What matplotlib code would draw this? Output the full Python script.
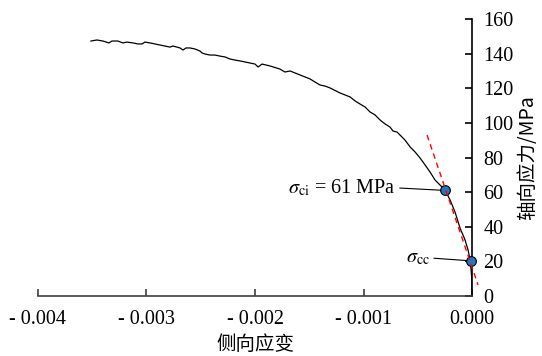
import numpy as np
import matplotlib
matplotlib.use('Agg')
from matplotlib import pyplot as plt

# lateral strain (x) and axial stress in MPa (y)
strain = np.array([-3.512e-3, -3.456e-3, -3.401e-3, -3.346e-3, -3.318e-3, -3.263e-3,
                   -3.217e-3, -3.180e-3, -3.124e-3, -3.078e-3, -3.041e-3, -3.014e-3,
                   -2.968e-3, -2.922e-3, -2.876e-3, -2.829e-3, -2.783e-3, -2.756e-3,
                   -2.719e-3, -2.691e-3, -2.664e-3, -2.636e-3, -2.599e-3, -2.553e-3,
                   -2.507e-3, -2.488e-3, -2.461e-3, -2.415e-3, -2.369e-3, -2.323e-3,
                   -2.276e-3, -2.230e-3, -2.184e-3, -2.138e-3, -2.092e-3, -2.046e-3,
                   -2.000e-3, -1.972e-3, -1.935e-3, -1.862e-3, -1.770e-3, -1.724e-3,
                   -1.677e-3, -1.585e-3, -1.493e-3, -1.447e-3, -1.401e-3, -1.355e-3,
                   -1.309e-3, -1.217e-3, -1.124e-3, -1.078e-3, -1.032e-3, -0.986e-3,
                   -0.940e-3, -0.894e-3, -0.848e-3, -0.802e-3, -0.756e-3, -0.728e-3,
                   -0.691e-3, -0.664e-3, -0.618e-3, -0.571e-3, -0.525e-3, -0.479e-3,
                   -0.433e-3, -0.387e-3, -0.341e-3, -0.295e-3, -0.249e-3, -0.203e-3,
                   -0.157e-3, -0.111e-3, -0.065e-3, -0.037e-3, -0.018e-3, -0.009e-3,
                   -0.002e-3, 0.0])
stress = np.array([147.3, 147.9, 147.3, 146.2, 147.3, 147.3,
                   146.2, 146.7, 146.2, 145.6, 145.6, 146.7,
                   146.2, 145.6, 145.0, 144.4, 143.8, 144.4,
                   143.8, 143.3, 142.1, 143.3, 143.3, 142.7,
                   141.5, 140.4, 139.8, 139.2, 139.2, 138.6,
                   138.1, 136.9, 136.3, 135.8, 135.2, 134.6,
                   134.0, 132.3, 134.0, 132.9, 131.1, 129.4,
                   130.0, 127.7, 125.4, 123.6, 121.9, 121.3,
                   120.2, 117.3, 115.0, 112.7, 110.9, 109.2,
                   106.3, 104.6, 101.7, 99.4, 97.6, 95.3,
                   94.7, 93.0, 90.1, 86.1, 83.2, 79.7,
                   75.7, 71.6, 67.0, 64.1, 61.2, 55.5,
                   48.5, 39.3, 32.4, 26.6, 20.8, 15.0,
                   9.2, 0.0])

# tangent (linear) part, dashed red
tangent_x = [-0.000415, 0.000055]
tangent_y = [93.0, 6.4]

# characteristic points
sigma_ci = (-0.00025, 61.0)
sigma_cc = (-0.00001, 20.3)

xticks = [-0.004, -0.003, -0.002, -0.001, 0.0]
xticklabels = ['- 0.004', '- 0.003', '- 0.002', '- 0.001', '0.000']
yticks = [0, 20, 40, 60, 80, 100, 120, 140, 160]

plt.rcParams['font.family'] = ['Liberation Serif', 'Noto Sans CJK SC']
plt.rcParams['mathtext.fontset'] = 'stix'
plt.rcParams['font.size'] = 14

fig = plt.figure(figsize = (5.42, 3.56), dpi = 100)
ax = fig.add_axes([0.070, 0.1685, 0.801, 0.778])

ax.plot(strain, stress, color = 'black', lw = 0.9, zorder = 2)
ax.plot(tangent_x, tangent_y, color = 'red', lw = 1.0, ls = (0, (4, 3)),
        clip_on = False, zorder = 4)
for pt in (sigma_ci, sigma_cc):
    ax.plot(pt[0], pt[1], 'o', ms = 7, mfc = '#1f78c1', mec = 'black',
            mew = 0.8, clip_on = False, zorder = 3)

ax.annotate(r'$\sigma_{\rm ci}$ = 61 MPa', xy = sigma_ci, xytext = (-0.000705, 62.5),
            ha = 'right', va = 'center', fontsize = 14.5,
            arrowprops = dict(arrowstyle = '-', lw = 0.8, color = 'black',
                              shrinkA = 1, shrinkB = 3, relpos = (1, 0.5)))
ax.annotate(r'$\sigma_{\rm cc}$', xy = sigma_cc, xytext = (-0.00039, 22.0),
            ha = 'right', va = 'center', fontsize = 14.5,
            arrowprops = dict(arrowstyle = '-', lw = 0.8, color = 'black',
                              shrinkA = 1, shrinkB = 3, relpos = (1, 0.5)))

ax.set_xlim(-0.004, 0.0)
ax.set_ylim(0, 160)
ax.set_xticks(xticks)
ax.set_xticklabels(xticklabels)
ax.set_yticks(yticks)

ax.spines['top'].set_visible(False)
ax.spines['left'].set_visible(False)
ax.spines['bottom'].set_color('#404040')
ax.spines['right'].set_color('black')
ax.spines['bottom'].set_linewidth(1.2)
ax.spines['right'].set_linewidth(1.2)
ax.yaxis.tick_right()
ax.yaxis.set_label_position('right')
ax.tick_params(axis = 'x', direction = 'in', length = 5, width = 1.2,
               color = '#404040', pad = 10, labelsize = 14.5)
ax.tick_params(axis = 'y', direction = 'in', length = 5, width = 1.2,
               pad = 8, labelsize = 14.5)

ax.set_xlabel('侧向应变', family = ['Noto Sans CJK SC', 'DejaVu Sans'],
              fontsize = 14, labelpad = 4)
ax.set_ylabel('轴向应力/MPa', family = ['Noto Sans CJK SC', 'DejaVu Sans'],
              fontsize = 14, labelpad = 3)

plt.savefig('out.png', dpi = 100)
